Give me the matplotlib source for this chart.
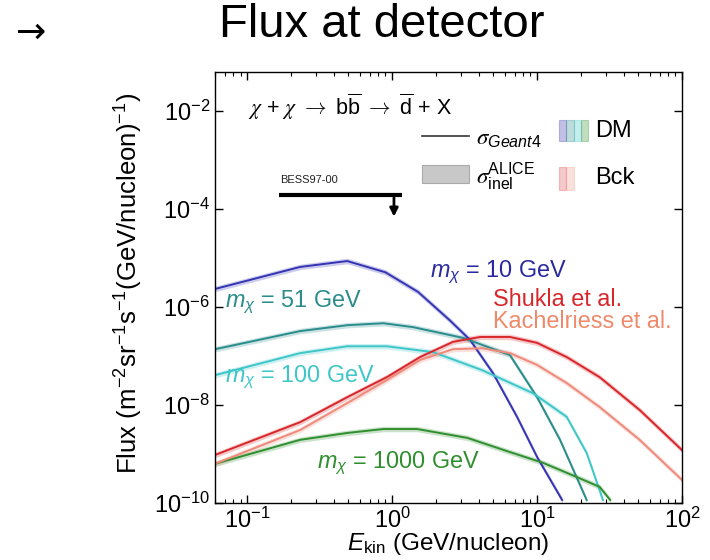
import numpy as np
import matplotlib
matplotlib.use("Agg")
import matplotlib.pyplot as plt
from matplotlib.patches import Rectangle
from matplotlib.ticker import LogLocator, NullFormatter

plt.rcParams['font.family'] = ['Liberation Sans', 'DejaVu Sans']
plt.rcParams['mathtext.fontset'] = 'custom'
plt.rcParams['mathtext.rm'] = 'Liberation Sans'
plt.rcParams['mathtext.it'] = 'Liberation Sans:italic'
plt.rcParams['mathtext.bf'] = 'Liberation Sans:bold'
# serif italic Greek (chi, sigma) and thin arrows
plt.rcParams['mathtext.sf'] = 'STIXGeneral:italic'

# Antideuteron flux curves: kinetic energy (GeV/nucleon) vs log10 flux
dm10_E = [0.06, 0.232, 0.49, 0.9, 1.51, 2.5, 3.45, 4.97, 7.27, 10.0, 14.9]
dm10_logF = [-5.63, -5.18, -5.06, -5.29, -5.69, -6.27, -6.67, -7.35, -8.24, -9.06, -9.94]

dm51_E = [0.06, 0.232, 0.49, 0.87, 1.4, 3.1, 6.5, 10.0, 14.4, 22.0]
dm51_logF = [-6.86, -6.49, -6.37, -6.33, -6.41, -6.63, -6.98, -7.84, -8.71, -9.94]

dm100_E = [0.06, 0.232, 0.49, 0.92, 1.92, 4.2, 9.4, 16.0, 22.0, 28.5]
dm100_logF = [-7.39, -6.94, -6.80, -6.80, -6.92, -7.29, -7.76, -8.24, -8.98, -9.94]

dm1000_E = [0.06, 0.232, 0.49, 0.87, 1.49, 3.3, 6.5, 11.0, 18.8, 27.0, 32.0]
dm1000_logF = [-9.20, -8.71, -8.57, -8.49, -8.49, -8.67, -8.96, -9.18, -9.47, -9.67, -9.94]

shukla_E = [0.06, 0.232, 0.49, 0.92, 1.56, 2.63, 4.05, 6.5, 10.0, 16.0, 27.0, 51.0, 100.0]
shukla_logF = [-9.02, -8.35, -7.84, -7.43, -7.02, -6.71, -6.61, -6.61, -6.73, -7.02, -7.43, -8.10, -8.92]

kach_E = [0.06, 0.232, 0.49, 0.92, 1.56, 2.63, 4.2, 6.5, 10.0, 16.0, 27.0, 51.0, 100.0]
kach_logF = [-9.20, -8.51, -7.96, -7.49, -7.08, -6.86, -6.84, -6.94, -7.18, -7.55, -8.04, -8.71, -9.53]

# BESS97-00 upper limit
bess_E = [0.166, 1.17]
bess_limit = 1.95e-4
bess_arrow_E = 1.03

series = [
    (dm10_E, dm10_logF, '#3434b4'),
    (dm51_E, dm51_logF, '#2b8c8c'),
    (dm100_E, dm100_logF, '#3ec6c8'),
    (dm1000_E, dm1000_logF, '#2f8f2f'),
    (shukla_E, shukla_logF, '#d8262a'),
    (kach_E, kach_logF, '#ee8a7a'),
]

fig = plt.figure(figsize=(7.1, 5.6), dpi=100)
ax = fig.add_axes([215/710, 1 - 503/560, (682-215)/710, (503-72)/560])

for E, logF, col in series:
    E = np.array(E)
    F = 10.0 ** np.array(logF)
    ax.fill_between(E, F * 0.88, F * 1.14, color=col, alpha=0.25, lw=0)
    ax.plot(E, F, color=col, lw=1.4)

ax.set_xscale('log')
ax.set_yscale('log')
ax.set_xlim(0.06, 100)
ax.set_ylim(1e-10, 10 ** -1.2)

ax.yaxis.set_major_locator(LogLocator(base=100))
ax.yaxis.set_minor_locator(LogLocator(base=100, subs=[]))
ax.yaxis.set_minor_formatter(NullFormatter())
ax.xaxis.set_minor_locator(LogLocator(base=10, subs=np.arange(2, 10)))
ax.xaxis.set_minor_formatter(NullFormatter())
ax.tick_params(which='both', direction='in', top=True, right=True, labelsize=17)
ax.tick_params(which='major', length=6, width=1)
ax.tick_params(which='minor', length=3, width=0.8)
for s in ax.spines.values():
    s.set_linewidth(1.0)

ax.set_xlabel(r'$E_{\rm kin}$ (GeV/nucleon)', fontsize=17.5)
ax.xaxis.set_label_coords(0.5, -0.066)
ax.set_ylabel(r'Flux (m$^{-2}$sr$^{-1}$s$^{-1}$(GeV/nucleon)$^{-1}$)', fontsize=18.5)
ax.yaxis.set_label_coords(-0.15, 0.51)

# BESS upper limit bar and arrow
ax.plot(bess_E, [bess_limit, bess_limit], color='black', lw=3, solid_capstyle='butt')
ax.annotate('', xy=(bess_arrow_E, bess_limit / 10 ** 0.5), xytext=(bess_arrow_E, bess_limit),
            arrowprops=dict(arrowstyle='-|>', color='black', lw=2, mutation_scale=12))
ax.text(bess_E[0] * 1.02, bess_limit * 1.6, 'BESS97-00', fontsize=8, color='#222222', va='bottom')

ax.text(0.07, 0.92,
        r'$\mathsf{\chi}$ + $\mathsf{\chi}$ $\mathsf{\rightarrow}$ b$\overline{\rm b}$ '
        r'$\mathsf{\rightarrow}$ $\overline{\rm d}$ + X',
        transform=ax.transAxes, fontsize=15.5, va='center')

# Key drawn in axes fraction
tr = ax.transAxes
def axfrac(px, py):
    return ((px - 215) / 467, (503 - py) / 431)

x0, y0 = axfrac(422, 136)
x1, _ = axfrac(469, 136)
ax.plot([x0, x1], [y0, y0], color='#333333', lw=1.2, transform=tr)
ax.text(axfrac(476, 136)[0], y0 - 0.005, r'$\mathsf{\sigma}_{Geant4}$', transform=tr, fontsize=16.5, va='center')

bx, by = axfrac(422, 183)
ax.add_patch(Rectangle((bx, by), (469 - 422) / 467, 18 / 431, transform=tr,
                       facecolor='#c8c8c8', edgecolor='#aaaaaa', lw=0.8))
ax.text(axfrac(476, 176)[0], axfrac(476, 176)[1], r'$\mathsf{\sigma}^{\rm ALICE}_{\rm inel}$',
        transform=tr, fontsize=16.5, va='center')

dm_cols = ['#3434b4', '#2b8c8c', '#3ec6c8', '#2f8f2f']
dx, dy = axfrac(559, 141)
w = 7.3 / 467
for i, c in enumerate(dm_cols):
    ax.add_patch(Rectangle((dx + i * w, dy), w, 21 / 431, transform=tr,
                           facecolor=c, alpha=0.3, edgecolor=c, lw=0.8))
ax.text(axfrac(595, 131)[0], axfrac(595, 131)[1], 'DM', transform=tr, fontsize=17, va='center')

kx, ky = axfrac(559, 190)
for i, c in enumerate(['#d8262a', '#ee8a7a']):
    ax.add_patch(Rectangle((kx + i * w, ky), w, 23 / 431, transform=tr,
                           facecolor=c, alpha=0.25, edgecolor=c, lw=0.8))
ax.text(axfrac(595, 178)[0], axfrac(595, 178)[1], 'Bck', transform=tr, fontsize=17, va='center')

# Curve labels
def lab(px, py, s, c):
    x, y = axfrac(px, py)
    ax.text(x, y, s, transform=tr, fontsize=16.8, color=c, va='center')

lab(430, 272, r'$m_\chi$ = 10 GeV', '#2a2aa0')
lab(493, 299, 'Shukla et al.', '#d8262a')
lab(493, 322, 'Kachelriess et al.', '#ee8a6a')
lab(225, 302, r'$m_\chi$ = 51 GeV', '#2b8c8c')
lab(225, 377, r'$m_\chi$ = 100 GeV', '#3ec6c8')
lab(317, 463, r'$m_\chi$ = 1000 GeV', '#2f8f2f')

fig.text(382 / 710, 1 - 25 / 560, 'Flux at detector', fontsize=34, ha='center', va='center')
fig.text(31 / 710, 1 - 33 / 560, '\u2192', fontsize=26, ha='center', va='center',
         family=['DejaVu Sans'])

fig.savefig('out.png', dpi=100)
